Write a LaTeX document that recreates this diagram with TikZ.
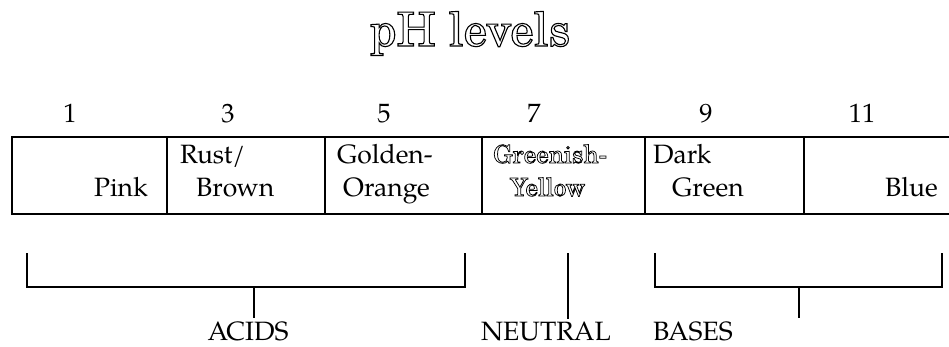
\documentclass[tikz,border=0pt]{standalone}
\usepackage{fontspec}
\setmainfont{TeX Gyre Pagella}
\newfontfamily\scholafont{TeX Gyre Schola}
% stroked (hollow) lettering via the PDF text render mode
\newcommand\hollowtext[2][0.9]{\special{pdf:literal direct #1 w 1 Tr}#2\special{pdf:literal direct 0 Tr}}
\begin{document}
\begin{tikzpicture}[x=1pt,y=-1pt,
  txt/.style={inner sep=0pt, font=\fontsize{26.5}{32}\selectfont},
  lw/.style={line width=2.8pt},
  brk/.style={line width=2.8pt, line cap=butt, line join=miter}]
\useasboundingbox (0,0) rectangle (949,346);

% title
\node[inner sep=0pt, anchor=base, font=\scholafont\fontsize{47}{50}\selectfont] (title) at (470,46) {\hollowtext[1.1]{pH levels}};

% scale numbers
\foreach \n/\x in {1/70,3/228,5/384,7/534,9/706,11/862}
  \node[txt, anchor=base] (num\n) at (\x,122) {\n};

% the colour strip
\draw[lw] (962,137) -- (12,137) -- (12,214) -- (962,214);
\foreach \x/\nm in {167/a,325/b,482/c,645/d,804/e}
  \draw[lw] (\x,137) coordinate (top\nm) -- (\x,214) coordinate (bot\nm);

% cell texts
\node[txt, anchor=base east] (pink) at (148,196) {Pink};
\node[txt, anchor=base west] (rust) at (180,163) {Rust/};
\node[txt, anchor=base west] (brown) at (196,196) {Brown};
\node[txt, anchor=base west] (golden) at (337,163) {Golden-};
\node[txt, anchor=base west] (orange) at (343,196) {Orange};
\node[inner sep=0pt, anchor=base west, font=\scholafont\fontsize{25}{30}\selectfont] (greenish) at (493,163) {\hollowtext[0.75]{Greenish-}};
\node[inner sep=0pt, anchor=base west, font=\scholafont\fontsize{25}{30}\selectfont] (yellow) at (510,196) {\hollowtext[0.75]{Yellow}};
\node[txt, anchor=base west] (dark) at (653,163) {Dark};
\node[txt, anchor=base west] (green) at (672,196) {Green};
\node[txt, anchor=base east] (blue) at (938,196) {Blue};

% group labels
\node[txt, anchor=base] (acids) at (248,340) {ACIDS};
\node[txt, anchor=base] (neutral) at (546,340) {NEUTRAL};
\node[txt, anchor=base west] (bases) at (653,340) {BASES};

% brackets
\coordinate (acidstem) at (254,287);
\draw[brk] (27,253) -- (27,287) -- (465,287) -- (465,253);
\draw[brk] (acidstem) -- (254,318);
\draw[brk] (568,253) -- (568,319);
\coordinate (basestem) at (799,287);
\draw[brk] (655,253) -- (655,287) -- (942,287) -- (942,253);
\draw[brk] (basestem) -- (799,318);
\end{tikzpicture}
\end{document}
